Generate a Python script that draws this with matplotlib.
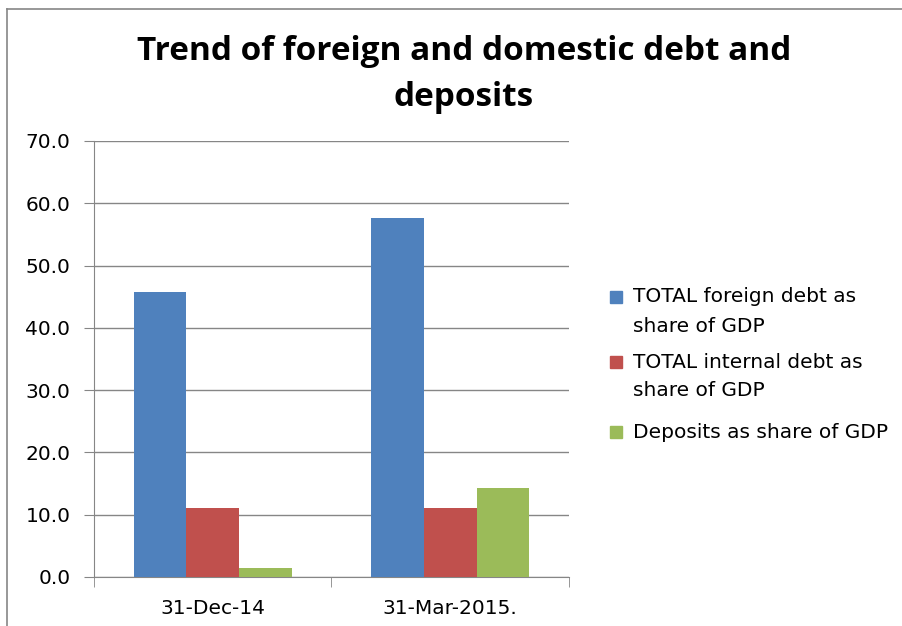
import numpy as np
import matplotlib.pyplot as plt
from matplotlib.lines import Line2D
from matplotlib.patches import Rectangle

categories = ["31-Dec-14", "31-Mar-2015."]
foreign_debt = [45.8, 57.7]
internal_debt = [11.1, 11.1]
deposits = [1.5, 14.3]
series_labels = ["TOTAL foreign debt as\nshare of GDP",
                 "TOTAL internal debt as\nshare of GDP",
                 "Deposits as share of GDP"]
colors = ["#4F81BD", "#C0504D", "#9BBB59"]

plt.rcParams['font.family'] = ['DejaVu Sans']

W, H = 903, 626
fig = plt.figure(figsize=(9.03, 6.26), dpi=100)
ax = fig.add_axes([0.1041, 0.0783, 0.5259, 0.6965])

x = np.arange(len(categories))
w = 0.222
for i, vals in enumerate([foreign_debt, internal_debt, deposits]):
    ax.bar(x + (i - 1) * w, vals, width=w, color=colors[i], zorder=3)

ax.set_xlim(-0.5, len(categories) - 0.5)
ax.set_ylim(0, 70)
ax.set_yticks(np.arange(0, 71, 10))
ax.set_yticklabels([f"{v:.1f}" for v in np.arange(0, 71, 10)], fontsize=14.5)
ax.set_xticks(x)
ax.set_xticklabels(categories, fontsize=14.5)
ax.set_xticks(np.arange(-0.5, len(categories), 1), minor=True)
ax.tick_params(axis='x', which='major', length=0, pad=16)
ax.tick_params(axis='x', which='minor', length=7, color="#868686", direction='out')
ax.tick_params(axis='y', length=7, color="#868686", direction='out', pad=10)
ax.grid(axis='y', color="#868686", linewidth=1, zorder=0)
for s in ["top", "right"]:
    ax.spines[s].set_visible(False)
for s in ["left", "bottom"]:
    ax.spines[s].set_color("#868686")

fig.text(464 / W, 1 - 52 / H, "Trend of foreign and domestic debt and", ha='center', va='center',
         fontsize=24, fontweight='bold', family='Open Sans')
fig.text(464 / W, 1 - 97 / H, "deposits", ha='center', va='center',
         fontsize=24, fontweight='bold', family='Open Sans')

# legend drawn by hand: square next to the first line of each label
first_line_y = [297, 362, 432]
for c, lab, y0 in zip(colors, series_labels, first_line_y):
    fig.add_artist(Rectangle((610 / W, 1 - (y0 + 6) / H), 12 / W, 12 / H,
                             transform=fig.transFigure, color=c))
    for k, line in enumerate(lab.split("\n")):
        fig.text(633 / W, 1 - (y0 + 29 * k) / H, line, ha='left', va='center', fontsize=14.5)

fig.add_artist(Line2D([7 / W, 7 / W], [0, 1 - 9 / H], color="#868686", lw=1.2))
fig.add_artist(Line2D([7 / W, 1], [1 - 9 / H, 1 - 9 / H], color="#868686", lw=1.2))

plt.savefig("out.png", dpi=100)
